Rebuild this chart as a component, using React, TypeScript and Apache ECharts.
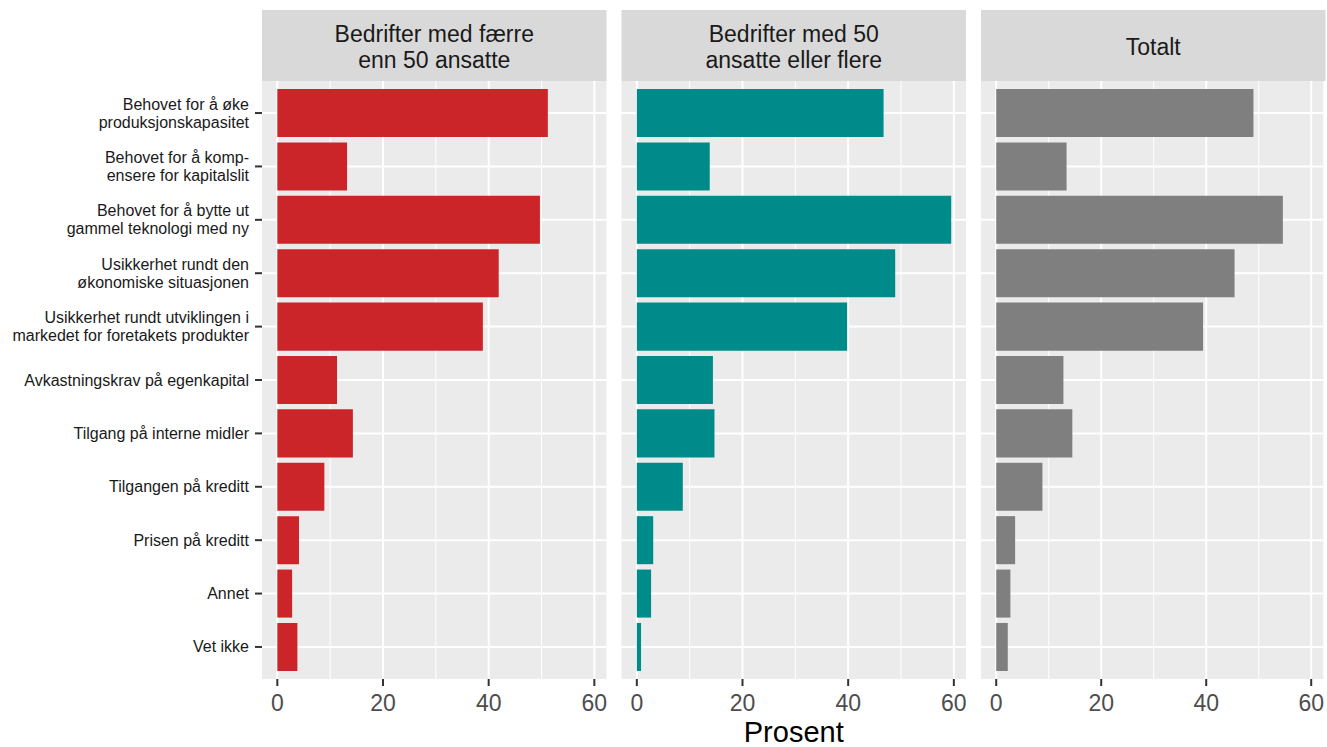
import React, { useEffect, useRef } from "react";
import * as echarts from "echarts";

const categories = [
  "Behovet for å øke\nproduksjonskapasitet",
  "Behovet for å komp-\nensere for kapitalslit",
  "Behovet for å bytte ut\ngammel teknologi med ny",
  "Usikkerhet rundt den\nøkonomiske situasjonen",
  "Usikkerhet rundt utviklingen i\nmarkedet for foretakets produkter",
  "Avkastningskrav på egenkapital",
  "Tilgang på interne midler",
  "Tilgangen på kreditt",
  "Prisen på kreditt",
  "Annet",
  "Vet ikke",
];
const panelTitles = [
  "Bedrifter med færre\nenn 50 ansatte",
  "Bedrifter med 50\nansatte eller flere",
  "Totalt",
];
const smallFirms = [51.2, 13.2, 49.7, 41.9, 38.9, 11.3, 14.3, 8.9, 4.1, 2.8, 3.8];
const largeFirms = [46.7, 13.8, 59.5, 48.9, 39.8, 14.4, 14.7, 8.7, 3.1, 2.7, 0.8];
const totalFirms = [49.0, 13.4, 54.6, 45.4, 39.4, 12.8, 14.5, 8.8, 3.6, 2.7, 2.2];
const xTickValues = [0, 20, 40, 60];
const xGridValues = [0, 10, 20, 30, 40, 50, 60];
const axisTitle = "Prosent";

const seriesValues = [smallFirms, largeFirms, totalFirms];
const colors = ["#CC2529", "#008B8B", "#7F7F7F"];

const X_MIN = -2.9;
const X_MAX = 62.3;
const Y_MIN = -0.6;
const Y_MAX = categories.length - 1 + 0.6;
const PANEL_LEFT = [262, 621.5, 981];
const PANEL_W = 344.5;
const PANEL_TOP = 81;
const PANEL_H = 598;
const STRIP_TOP = 10;
const STRIP_H = 71;
const TICK_LEN = 7;
const FONT = "Liberation Sans, Arial, sans-serif";

export default function App() {
  const ref = useRef<HTMLDivElement>(null);
  useEffect(() => {
    if (!ref.current) return;
    const chart = echarts.init(ref.current, null, { renderer: "svg" });
    const idx = categories.map((_, i) => i);

    const grids = PANEL_LEFT.map((l) => ({
      left: l,
      top: PANEL_TOP,
      width: PANEL_W,
      height: PANEL_H,
      show: true,
      backgroundColor: "#EBEBEB",
      borderWidth: 0,
    }));

    const xAxes = PANEL_LEFT.map((_, p) => ({
      type: "value",
      gridIndex: p,
      min: X_MIN,
      max: X_MAX,
      axisLine: { show: false },
      splitLine: { show: false },
      axisTick: { show: false },
      axisLabel: {
        show: true,
        customValues: xTickValues,
        margin: 12,
        fontSize: 23,
        color: "#4D4D4D",
        fontFamily: FONT,
      },
    }));

    const yAxes = PANEL_LEFT.map((_, p) => ({
      type: "value",
      gridIndex: p,
      min: Y_MIN,
      max: Y_MAX,
      inverse: true,
      axisLine: { show: false },
      splitLine: { show: false },
      axisTick: { show: false },
      axisLabel: {
        show: p === 0,
        customValues: idx,
        margin: 13,
        fontSize: 16,
        lineHeight: 18,
        color: "#1A1A1A",
        fontFamily: FONT,
        align: "right",
        formatter: (v: number) => categories[Math.round(v)] ?? "",
      },
    }));

    const series: any[] = [];
    PANEL_LEFT.forEach((_, p) => {
      // vertical grid lines
      series.push({
        type: "custom",
        xAxisIndex: p,
        yAxisIndex: p,
        z: 1,
        silent: true,
        data: xGridValues.map((v) => [v, 0]),
        renderItem: (_params: any, api: any) => {
          const v = api.value(0);
          const a = api.coord([v, Y_MIN]);
          const b = api.coord([v, Y_MAX]);
          return {
            type: "line",
            shape: { x1: a[0], y1: a[1], x2: b[0], y2: b[1] },
            style: { stroke: "#FFFFFF", lineWidth: v % 20 === 0 ? 2 : 1 },
          };
        },
      });
      // horizontal grid lines
      series.push({
        type: "custom",
        xAxisIndex: p,
        yAxisIndex: p,
        z: 1,
        silent: true,
        data: idx.map((i) => [0, i]),
        renderItem: (_params: any, api: any) => {
          const i = api.value(1);
          const a = api.coord([X_MIN, i]);
          const b = api.coord([X_MAX, i]);
          return {
            type: "line",
            shape: { x1: a[0], y1: a[1], x2: b[0], y2: b[1] },
            style: { stroke: "#FFFFFF", lineWidth: 2 },
          };
        },
      });
      // x ticks
      series.push({
        type: "custom",
        xAxisIndex: p,
        yAxisIndex: p,
        z: 3,
        silent: true,
        clip: false,
        data: xTickValues.map((v) => [v, Y_MAX]),
        renderItem: (_params: any, api: any) => {
          const a = api.coord([api.value(0), api.value(1)]);
          return {
            type: "line",
            shape: { x1: a[0], y1: a[1], x2: a[0], y2: a[1] + TICK_LEN },
            style: { stroke: "#333333", lineWidth: 2 },
          };
        },
      });
      if (p === 0) {
        // y ticks
        series.push({
          type: "custom",
          xAxisIndex: p,
          yAxisIndex: p,
          z: 3,
          silent: true,
          clip: false,
          data: idx.map((i) => [X_MIN, i]),
          renderItem: (_params: any, api: any) => {
            const a = api.coord([api.value(0), api.value(1)]);
            return {
              type: "line",
              shape: { x1: a[0] - TICK_LEN, y1: a[1], x2: a[0], y2: a[1] },
              style: { stroke: "#333333", lineWidth: 2 },
            };
          },
        });
      }
      // bars
      series.push({
        type: "custom",
        xAxisIndex: p,
        yAxisIndex: p,
        z: 2,
        data: seriesValues[p].map((v, i) => [v, i]),
        renderItem: (_params: any, api: any) => {
          const v = api.value(0);
          const i = api.value(1);
          const s = api.coord([0, i]);
          const e = api.coord([v, i]);
          const h = Math.abs(api.size([0, 0.9])[1]);
          return {
            type: "rect",
            shape: { x: s[0], y: s[1] - h / 2, width: e[0] - s[0], height: h },
            style: { fill: colors[p] },
          };
        },
      });
    });

    const graphics: any[] = [];
    PANEL_LEFT.forEach((l, p) => {
      graphics.push({
        type: "rect",
        left: l,
        top: STRIP_TOP,
        shape: { width: PANEL_W, height: STRIP_H },
        style: { fill: "#D9D9D9" },
        silent: true,
      });
      graphics.push({
        type: "text",
        x: l + PANEL_W / 2,
        y: STRIP_TOP + STRIP_H / 2 + 1,
        style: {
          text: panelTitles[p],
          fontSize: 23,
          lineHeight: 26,
          fontFamily: FONT,
          fill: "#1A1A1A",
          align: "center",
          verticalAlign: "middle",
        },
        silent: true,
      });
    });
    graphics.push({
      type: "text",
      x: (PANEL_LEFT[0] + PANEL_LEFT[2] + PANEL_W) / 2,
      y: 732,
      style: {
        text: axisTitle,
        fontSize: 29,
        fontFamily: FONT,
        fill: "#000000",
        align: "center",
        verticalAlign: "middle",
      },
      silent: true,
    });

    chart.setOption({
      animation: false,
      backgroundColor: "#FFFFFF",
      grid: grids,
      xAxis: xAxes,
      yAxis: yAxes,
      series,
      graphic: graphics,
    });
    return () => chart.dispose();
  }, []);

  return (
    <div
      ref={ref}
      style={{ position: "fixed", left: 0, top: 0, width: 1327, height: 747 }}
    />
  );
}
